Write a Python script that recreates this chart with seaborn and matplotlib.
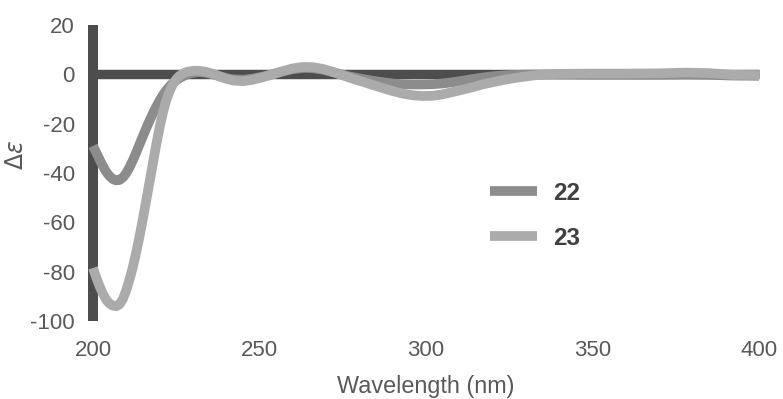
import matplotlib
matplotlib.use("Agg")
import matplotlib.pyplot as plt
import seaborn as sns
import pandas as pd

# CD spectra of compounds 22 and 23
wavelength = [200, 201, 202, 203, 204, 205, 206, 207, 208, 209, 210, 211, 212, 213,
              214, 215, 216, 217, 218, 219, 220, 221, 222, 223, 224, 225, 226, 227,
              228, 229, 230, 231, 232,
              234, 236, 238, 240, 242,
              245, 248, 251, 254, 257, 260, 263, 266, 269, 272, 275, 278, 281, 284,
              287, 290, 293, 296, 299, 302, 305, 308, 311, 314, 317, 320,
              324, 328, 332, 336, 340,
              350, 360, 370, 378, 385, 392, 400]

de_22 = [-29, -31.8, -34.6, -37.3, -39.6, -41.3, -42.5, -43, -42.8, -41.8, -40, -37.6,
         -34.8, -31.6, -28.3, -25, -21.8, -18.7, -15.8, -13.1, -10.6, -8.4, -6.5, -4.9,
         -3.5, -2.4, -1.5, -0.8, -0.2, 0.3, 0.6, 0.8, 0.9,
         0.6, 0.0, -0.8, -1.5, -2.0,
         -2.2, -1.7, -0.9, 0.1, 1.2, 2.1, 2.6, 2.5, 1.9, 0.9, -0.2, -1.1, -1.9, -2.6,
         -3.2, -3.7, -4.0, -4.1, -4.1, -4.0, -3.7, -3.2, -2.6, -1.9, -1.3, -0.8,
         -0.4, -0.2, -0.1, -0.1, -0.1,
         -0.2, -0.2, -0.2, -0.1, -0.2, -0.5, -0.6]

de_23 = [-78.5, -82.5, -86, -89, -91.5, -93, -93.8, -94, -93.2, -91, -87.5, -83,
         -78, -72, -65.5, -58.5, -51, -43.5, -36, -28.5, -21.5, -15.5, -10.5, -6.8,
         -4, -2, -0.6, 0.3, 0.9, 1.2, 1.4, 1.5, 1.4,
         1.0, 0.2, -0.8, -1.8, -2.5,
         -2.8, -2.2, -1.2, 0, 1.3, 2.4, 3.0, 2.9, 2.2, 1.0, -0.4, -1.8, -3.0, -4.3,
         -5.6, -6.8, -7.8, -8.5, -8.8, -8.7, -8.1, -7.2, -6.2, -5.2, -4.1, -3.2,
         -2.1, -1.2, -0.5, 0, 0.2,
         0.3, 0.3, 0.4, 0.7, 0.5, -0.2, -0.3]

compounds = ["22", "23"]
colors = ["#8c8c8c", "#ababab"]

x_ticks = [200, 250, 300, 350, 400]
y_ticks = [20, 0, -20, -40, -60, -80, -100]

df = pd.DataFrame({
    "Wavelength": wavelength * 2,
    "de": de_22 + de_23,
    "Compound": [compounds[0]] * len(wavelength) + [compounds[1]] * len(wavelength),
})

sns.set_theme(style="white")
plt.rcParams["font.family"] = ["Liberation Sans", "DejaVu Sans"]
plt.rcParams["mathtext.fontset"] = "dejavusans"
plt.rcParams["axes.unicode_minus"] = False

text_color = "#595959"
axis_color = "#4d4d4d"

fig = plt.figure(figsize=(7.83, 3.99), dpi=100)
ax = fig.add_axes([93 / 783, 1 - 321 / 399, (759 - 93) / 783, (321 - 25) / 399])

# heavy axis bars: vertical at 200 nm and the zero baseline
ax.plot([200, 200], [-100, 20], color=axis_color, lw=7.2, solid_capstyle="butt",
        clip_on=False, zorder=1)
ax.plot([200, 400], [0, 0], color=axis_color, lw=6.8, solid_capstyle="butt",
        clip_on=False, zorder=1)

sns.lineplot(data=df, x="Wavelength", y="de", hue="Compound", palette=colors,
             hue_order=compounds, linewidth=7, ax=ax, sort=False, zorder=3)
for line in ax.get_lines()[2:]:
    line.set_solid_capstyle("butt")
    line.set_solid_joinstyle("round")
    line.set_clip_on(False)

ax.set_xlim(200, 400)
ax.set_ylim(-100, 20)
ax.set_xticks(x_ticks)
ax.set_yticks(y_ticks)
for s in ax.spines.values():
    s.set_visible(False)
ax.tick_params(axis="both", length=0, labelsize=16, colors=text_color)
ax.tick_params(axis="y", pad=13)
ax.tick_params(axis="x", pad=14)

ax.set_xlabel("Wavelength (nm)", fontsize=16.8, color=text_color, labelpad=10)
ax.set_ylabel(r"$\Delta\varepsilon$", fontsize=17, color=text_color)
ax.yaxis.set_label_coords(-0.097, 0.56)

leg = ax.legend(loc="upper left", bbox_to_anchor=(0.596, 0.471), frameon=False,
                borderaxespad=0, borderpad=0,
                handlelength=1.93, handletextpad=0.66, labelspacing=0.91,
                prop={"size": 17.5, "weight": "bold"})
for t in leg.get_texts():
    t.set_color("#404040")
for h in leg.legend_handles:
    h.set_linewidth(7)
    h.set_solid_capstyle("butt")

fig.savefig("out.png", dpi=100)
